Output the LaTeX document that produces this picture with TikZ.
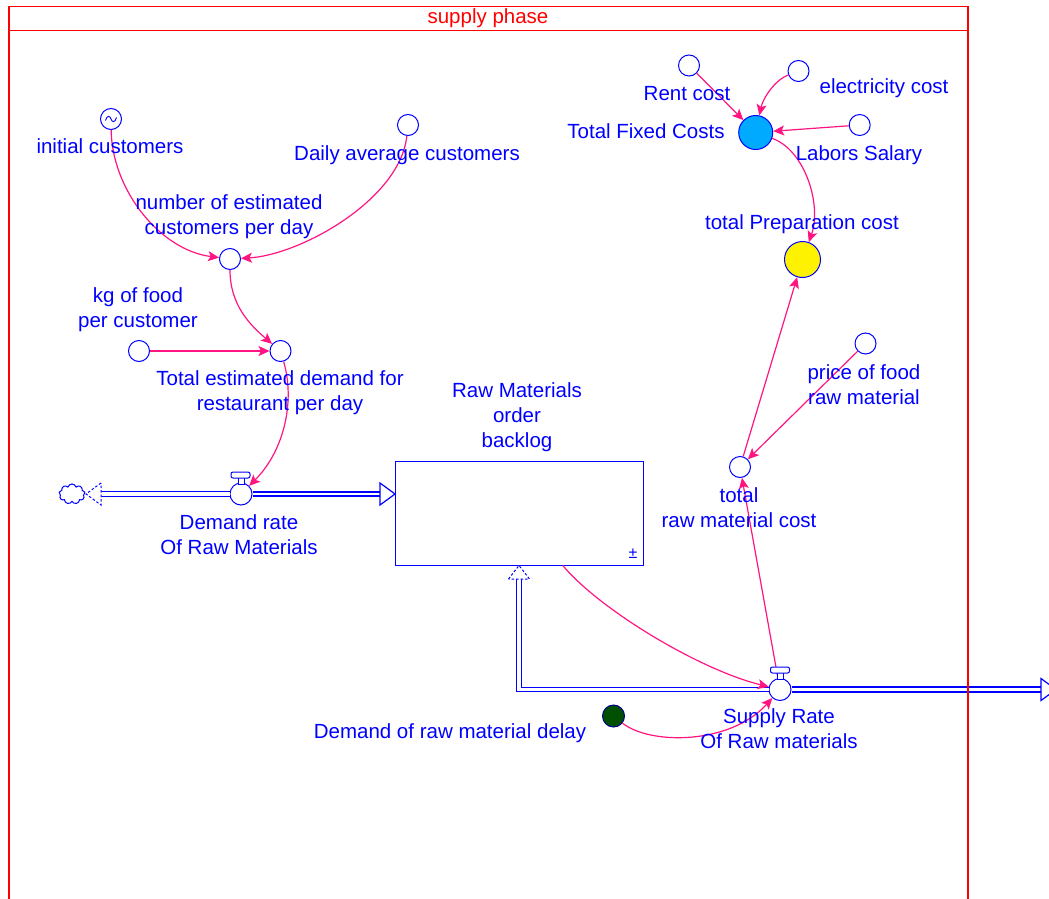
\documentclass[tikz,border=0pt]{standalone}
\usepackage{fontspec}
\setmainfont{Liberation Sans}
\usetikzlibrary{arrows.meta,shapes.symbols}
\definecolor{lnk}{RGB}{255,20,130}
\definecolor{dgreen}{RGB}{0,80,0}
\definecolor{dblue}{RGB}{0,0,140}
\definecolor{tfcblue}{RGB}{0,170,255}
\begin{document}
\begin{tikzpicture}[x=1pt,y=-1pt,
 aux/.style={circle,draw=blue,line width=1pt,fill=white,minimum size=21pt,inner sep=0pt},
 lbl/.style={font=\fontsize{20.5}{25}\selectfont,text=blue,align=center,inner sep=0pt,yshift=-2pt},
 link/.style={draw=lnk,line width=1.2pt,-{Stealth[length=11pt,width=10pt,inset=2.5pt]}},
 pipeA/.style={draw=blue,double=white,double distance=3.5pt,line width=1.1pt,line join=miter},
 pipeB/.style={draw=blue,double=white,double distance=2.6pt,line width=1.8pt},
 headopen/.style={draw=blue,line width=1.2pt,fill=white,line join=miter},
 headdash/.style={draw=blue,line width=1pt,fill=white,dash pattern=on 2.5pt off 2pt},
 handle/.style={draw=blue,line width=1pt,fill=white}]
\path[use as bounding box] (0,0) rectangle (1049,899);
\clip (0,0) rectangle (1049,899);

% nodes
\node[aux] (ic) at (111,119) {};
\draw[blue,line width=0.9pt] (105.5,120.5) .. controls (107,115) and (110,115.5) .. (111,119) .. controls (112,122.5) and (115,123) .. (116.5,117.5);
\node[aux] (da) at (408,125) {};
\node[aux] (ne) at (230,259) {};
\node[aux] (kg) at (139,351) {};
\node[aux] (te) at (280.5,351) {};
\node[draw=blue,line width=1pt,minimum width=248pt,minimum height=104pt,inner sep=0pt] (stock) at (519,513) {};
\node[aux,fill=dgreen,draw=dblue,minimum size=22pt] (dl) at (613.5,716) {};
\node[aux] (trc) at (740,467) {};
\node[aux] (pr) at (865.5,343.5) {};
\node[aux,fill=yellow,minimum size=36pt] (tpc) at (802.5,259.5) {};
\node[aux,fill=tfcblue,minimum size=34pt] (tfc) at (755.7,132.5) {};
\node[aux] (rc) at (689,65.5) {};
\node[aux] (ec) at (798.5,71) {};
\node[aux] (ls) at (859.7,125) {};
\node[cloud,draw=blue,line width=1pt,cloud puffs=9,minimum width=26pt,minimum height=20pt,inner sep=0pt,aspect=1.3] (cl) at (72,494) {};

% pipes
\coordinate (dAb) at (101,494);
\coordinate (sAb) at (380,494);
\coordinate (sBb) at (519,579);
\coordinate (oB) at (1041,689.5);
\node[aux,minimum size=22pt] (vd) at (241,494) {};
\node[aux,minimum size=22pt] (sv) at (780,689.5) {};
\draw[pipeA] (dAb) -- (vd.west);
\draw[pipeB] (vd.east) -- (sAb);
\draw[headdash] (101,483) -- (86,494) -- (101,505) -- cycle;
\draw[headopen] (380,483) -- (395,494) -- (380,505) -- cycle;
\draw[pipeA] (sBb) -- (519,689.5) -- (sv.west);
\draw[headdash] (508.5,579) -- (519,565.5) -- (529.5,579) -- cycle;
\draw[pipeB] (sv.east) -- (oB);
\draw[headopen] (1041,678.5) -- (1056,689.5) -- (1041,700.5) -- cycle;

% links
\draw[link] (ic) .. controls (112,190) and (160,250) .. (ne);
\draw[link] (da) .. controls (400,200) and (300,255) .. (ne);
\draw[link] (ne) .. controls (230,305) and (250,325) .. (te);
\draw[link] (kg) -- (te);
\draw[link] (te) .. controls (295,400) and (285,450) .. (vd);
\draw[link] (stock) .. controls (600,610) and (700,670) .. (sv);
\draw[link] (dl) .. controls (650,745) and (730,745) .. (sv);
\draw[link] (sv) -- (trc);
\draw[link] (pr) -- (trc);
\draw[link] (trc) -- (tpc);
\draw[link] (rc) -- (tfc);
\draw[link] (ec) .. controls (775,80) and (763,98) .. (tfc);
\draw[link] (ls) -- (tfc);
\draw[link] (tfc) .. controls (805,150) and (822,205) .. (tpc);

% valve handles
\draw[handle] (238,477.5) rectangle (244,484);
\draw[handle,rounded corners=2pt] (231,472) rectangle (250,478);
\draw[handle] (777,672.5) rectangle (783,679);
\draw[handle,rounded corners=2pt] (770.5,667) rectangle (789.5,673);

\node[text=blue,font=\fontsize{16}{16}\selectfont,inner sep=0pt] (pm) at (633,554) {±};

% labels
\node[lbl] (icL) at (110,146) {initial customers\strut};
\node[lbl] (daL) at (407,153) {Daily average customers\strut};
\node[lbl] (neL) at (229,215) {number of estimated\strut\\customers per day\strut};
\node[lbl] (kgL) at (138,307.5) {kg of food\strut\\per customer\strut};
\node[lbl] (teL) at (280,391) {Total estimated demand for\strut\\restaurant per day\strut};
\node[lbl] (vdL) at (239,534.5) {Demand rate\strut\\Of Raw Materials\strut};
\node[lbl] (stL) at (517,415) {Raw Materials\strut\\order\strut\\backlog\strut};
\node[lbl] (trcL) at (739,508) {total\strut\\raw material cost\strut};
\node[lbl] (prL) at (864,385) {price of food\strut\\raw material\strut};
\node[lbl] (tpcL) at (802,222) {total Preparation cost\strut};
\node[lbl] (tfcL) at (646,131) {Total Fixed Costs\strut};
\node[lbl] (rcL) at (687,93) {Rent cost\strut};
\node[lbl] (ecL) at (884,86) {electricity cost\strut};
\node[lbl] (lsL) at (859,153) {Labors Salary\strut};
\node[lbl] (svL) at (779,729) {Supply Rate\strut\\Of Raw materials\strut};
\node[lbl] (dlL) at (450,731) {Demand of raw material delay\strut};

% frame
\draw[red,line width=1.1pt] (9,905) -- (9,6.5) -- (968,6.5) -- (968,905);
\draw[red,line width=1.1pt] (9,30.5) -- (968,30.5);
\node[text=red,font=\fontsize{20.5}{20}\selectfont,inner sep=0pt] (title) at (488,19) {supply phase\strut};
\end{tikzpicture}
\end{document}
